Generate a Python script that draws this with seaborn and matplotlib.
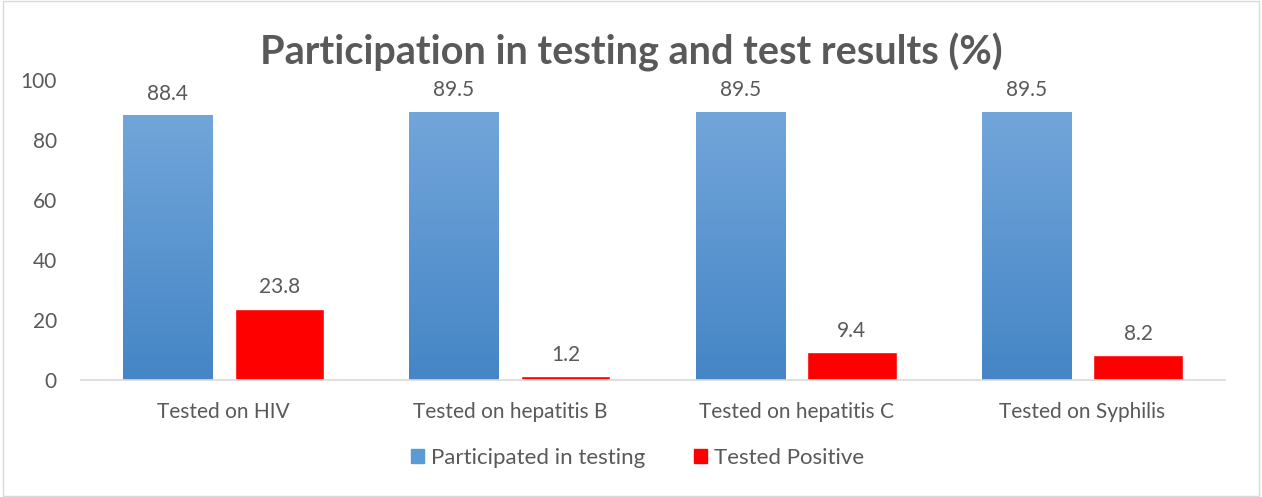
import matplotlib.pyplot as plt
import numpy as np
import pandas as pd
import seaborn as sns
from matplotlib.colors import LinearSegmentedColormap
from matplotlib.patches import Rectangle

sns.set_theme(style="white")
plt.rcParams['font.family'] = ['Lato', 'DejaVu Sans']

# data
tests = ["Tested on HIV", "Tested on hepatitis B", "Tested on hepatitis C", "Tested on Syphilis"]
participated = [88.4, 89.5, 89.5, 89.5]
positive = [23.8, 1.2, 9.4, 8.2]
series = ["Participated in testing", "Tested Positive"]

df = pd.DataFrame({
    "test": tests * 2,
    "value": participated + positive,
    "series": [series[0]] * 4 + [series[1]] * 4,
})

grey = "#595959"
fig = plt.figure(figsize=(12.62, 4.97), dpi=100)
ax = fig.add_axes([0.0638, 0.2354, 0.9072, 0.6036])

ax = sns.barplot(data=df, x="test", y="value", hue="series", order=tests, hue_order=series,
                 palette=["#5b9bd5", "#ff0000"], width=0.78, gap=0.2, errorbar=None,
                 saturation=1, ax=ax, legend=False)

# gradient on the blue bars
blue_cm = LinearSegmentedColormap.from_list("blu", ["#4585c6", "#72a6da"])
grad = np.linspace(0, 1, 256).reshape(-1, 1)
for p in ax.patches[:4]:
    x0, w, h = p.get_x(), p.get_width(), p.get_height()
    im = ax.imshow(grad, cmap=blue_cm, extent=[x0, x0 + w, 0, h], origin="lower",
                   aspect="auto", zorder=p.get_zorder())
    im.set_clip_path(p)
ax.set_xlim(-0.5, 3.5)
ax.set_ylim(0, 100)
ax.set_yticks([0, 20, 40, 60, 80, 100])

for p in ax.patches:
    ax.annotate(f"{p.get_height():.1f}", (p.get_x() + p.get_width() / 2, p.get_height()),
                xytext=(0, 8), textcoords="offset points", ha="center", va="bottom",
                fontsize=15, color=grey)

for s in ["top", "right", "left"]:
    ax.spines[s].set_visible(False)
ax.spines["bottom"].set_color("#d9d9d9")
ax.spines["bottom"].set_linewidth(1.2)
ax.tick_params(axis="both", length=0, labelsize=15, labelcolor=grey)
ax.tick_params(axis="x", pad=16)
ax.tick_params(axis="y", pad=17)
ax.set_xlabel("")
ax.set_ylabel("")

fig.suptitle("Participation in testing and test results (%)", x=0.5, y=0.895, va="center",
             fontsize=28.5, fontweight="bold", color=grey)

handles = [Rectangle((0, 0), 1, 1, color="#5b9bd5"), Rectangle((0, 0), 1, 1, color="#ff0000")]
fig.legend(handles, series, loc="center", bbox_to_anchor=(0.505, 0.078), ncol=2, frameon=False,
           fontsize=16, labelcolor=grey, handlelength=0.6, handleheight=0.6,
           handletextpad=0.3, columnspacing=2.2)

fig.patches.append(Rectangle((0.002, 0.002), 0.996, 0.996, transform=fig.transFigure,
                             fill=False, edgecolor="#d9d9d9", linewidth=1))

fig.savefig("out.png", dpi=100)
